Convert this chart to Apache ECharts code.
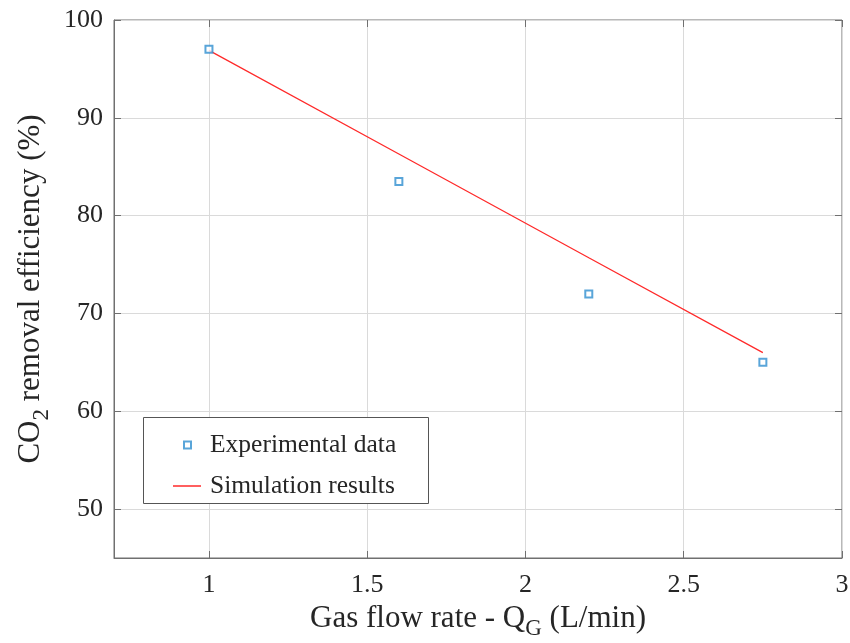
<!DOCTYPE html>
<html><head><meta charset="utf-8">
<script src="https://cdn.jsdelivr.net/npm/echarts@6/dist/echarts.min.js"></script>
<style>html,body{margin:0;padding:0;background:#fff}#c{width:850px;height:643px}</style>
</head><body><div id="c"></div>
<script>
var expX = [1, 1.6, 2.2, 2.75];
var expY = [97, 83.5, 72, 65];
var simX = [1, 1.6, 2.2, 2.75];
var simY = [96.9, 86.3, 75.7, 66.0];
var xTicks = [1, 1.5, 2, 2.5, 3];
var yTicks = [50, 60, 70, 80, 90, 100];

var font = 'Liberation Serif';
var axisCol = '#707070';
var txt = '#262626';
var chart = echarts.init(document.getElementById('c'));
function pairs(xs, ys){ return xs.map(function(x,i){return [x, ys[i]];}); }
var nameRich = {a: {fontFamily: font, fontSize: 31, color: txt},
                s: {fontFamily: font, fontSize: 23, color: txt, padding: [22, 0, 0, 0]}};
chart.setOption({
  animation: false,
  grid: {left: 114, right: 8, top: 20, bottom: 85, show: true, borderColor: axisCol, borderWidth: 1,
         containLabel: false, outerBoundsMode: 'none'},
  graphic: [{type: 'rect', left: 143, top: 417, shape: {width: 285, height: 86},
             style: {fill: '#fff', stroke: '#555', lineWidth: 1}, z: 90}],
  legend: [
    {left: 183, top: 432, padding: 0, itemWidth: 7, itemHeight: 7, z: 100,
     textStyle: {fontFamily: font, fontSize: 25.5, color: txt, padding: [0, 0, 0, 14]},
     data: [{name: 'Experimental data', icon: 'emptyRect', itemStyle: {color: '#2f8fd0', borderColor: '#2f8fd0', borderWidth: 1.5}}]},
    {left: 173, top: 473, padding: 0, itemWidth: 28, itemHeight: 1.5, z: 100,
     textStyle: {fontFamily: font, fontSize: 25.5, color: txt, padding: [0, 0, 0, 4]},
     data: [{name: 'Simulation results', icon: 'rect', itemStyle: {color: '#ff2a2a'}}]}
  ],
  xAxis: [{
    type: 'value', min: 0.7, max: 3,
    axisLine: {show: true, lineStyle: {color: axisCol}},
    axisTick: {show: true, inside: true, length: 7, lineStyle: {color: axisCol}, customValues: xTicks},
    splitLine: {show: true, lineStyle: {color: '#dadada'}},
    axisLabel: {fontFamily: font, fontSize: 26, color: txt, margin: 14, customValues: xTicks,
      formatter: function(v){return String(v);}},
    name: '{a|Gas flow rate - Q}{s|G}{a| (L/min)}', nameLocation: 'middle', nameGap: 35,
    nameTextStyle: {rich: nameRich}
  }, {
    type: 'value', min: 0.7, max: 3, position: 'top',
    axisLine: {show: false}, axisLabel: {show: false}, splitLine: {show: false},
    axisTick: {show: true, inside: true, length: 7, lineStyle: {color: axisCol}, customValues: xTicks}
  }],
  yAxis: [{
    type: 'value', min: 45, max: 100,
    axisLine: {show: true, lineStyle: {color: axisCol}},
    axisTick: {show: true, inside: true, length: 7, lineStyle: {color: axisCol}, customValues: yTicks},
    splitLine: {show: true, lineStyle: {color: '#dadada'}},
    axisLabel: {fontFamily: font, fontSize: 26, color: txt, margin: 11, customValues: yTicks},
    name: '{a|CO}{s|2}{a| removal efficiency (%)}', nameLocation: 'middle', nameGap: 61, nameRotate: 90,
    nameTextStyle: {rich: nameRich}
  }, {
    type: 'value', min: 45, max: 100, position: 'right',
    axisLine: {show: false}, axisLabel: {show: false}, splitLine: {show: false},
    axisTick: {show: true, inside: true, length: 7, lineStyle: {color: axisCol}, customValues: yTicks}
  }],
  series: [
    {name: 'Experimental data', type: 'scatter', data: pairs(expX, expY), symbol: 'emptyRect', symbolSize: 7,
     itemStyle: {color: '#2f8fd0', borderWidth: 1.5}, z: 5},
    {name: 'Simulation results', type: 'line', data: pairs(simX, simY), showSymbol: false, symbol: 'none',
     lineStyle: {color: '#ff2a2a', width: 1.3}, itemStyle: {color: '#ff2a2a'}}
  ]
});
</script></body></html>
